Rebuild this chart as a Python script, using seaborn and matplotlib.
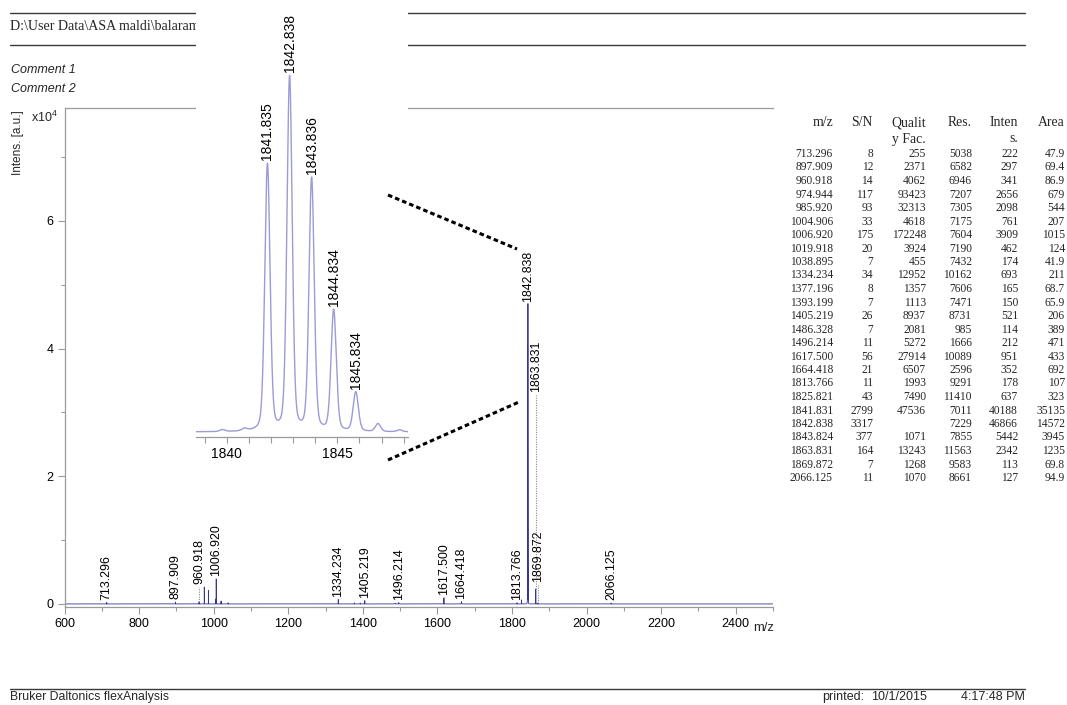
import numpy as np
import matplotlib
matplotlib.use("Agg")
import matplotlib.pyplot as plt
import seaborn as sns
from matplotlib import font_manager
from matplotlib.lines import Line2D
from matplotlib.ticker import MultipleLocator, FuncFormatter

# ---------------- peak list (flexAnalysis export) ----------------
peak_mz = [713.296, 897.909, 960.918, 974.944, 985.920, 1004.906, 1006.920,
           1019.918, 1038.895, 1334.234, 1377.196, 1393.199, 1405.219,
           1486.328, 1496.214, 1617.500, 1664.418, 1813.766, 1825.821,
           1841.831, 1842.838, 1843.824, 1863.831, 1869.872, 2066.125]
peak_sn = [8, 12, 14, 117, 93, 33, 175, 20, 7, 34, 8, 7, 26, 7, 11, 56, 21,
           11, 43, 2799, 3317, 377, 164, 7, 11]
peak_quality = [255, 2371, 4062, 93423, 32313, 4618, 172248, 3924, 455,
                12952, 1357, 1113, 8937, 2081, 5272, 27914, 6507, 1993, 7490,
                47536, None, 1071, 13243, 1268, 1070]
peak_res = [5038, 6582, 6946, 7207, 7305, 7175, 7604, 7190, 7432, 10162,
            7606, 7471, 8731, 985, 1666, 10089, 2596, 9291, 11410, 7011,
            7229, 7855, 11563, 9583, 8661]
peak_inten = [222, 297, 341, 2656, 2098, 761, 3909, 462, 174, 693, 165, 150,
              521, 114, 212, 951, 352, 178, 637, 40188, 46866, 5442, 2342,
              113, 127]
peak_area = [47.9, 69.4, 86.9, 679, 544, 207, 1015, 124, 41.9, 211, 68.7,
             65.9, 206, 389, 471, 433, 692, 107, 323, 35135, 14572, 3945,
             1235, 69.8, 94.9]

# peaks annotated in the overview spectrum
labelled_mz = [713.296, 897.909, 960.918, 1006.920, 1334.234, 1405.219,
               1496.214, 1617.500, 1664.418, 1813.766, 1842.838, 1863.831,
               1869.872, 2066.125]
# labels lifted clear of neighbouring peaks: foot of label (intensity units)
lifted_labels = {960.918: 2650, 1863.831: 32800, 1869.872: 3000}

# isotope cluster shown in the zoom window
iso_mz = [1839.80, 1840.80, 1841.835, 1842.838, 1843.836, 1844.834,
          1845.834, 1846.84, 1847.82]
iso_inten = [250, 300, 35300, 46866, 33400, 16000, 5200, 1050, 250]
iso_labelled = [1841.835, 1842.838, 1843.836, 1844.834, 1845.834]

table_header_1 = ["m/z", "S/N", "Qualit", "Res.", "Inten", "Area"]
table_header_2 = ["", "", "y Fac.", "", "s.", ""]

header_path = r"D:\User Data\ASA maldi\balaram"
comments = ["Comment 1", "Comment 2"]
footer_left = "Bruker Daltonics flexAnalysis"
footer_right = ["printed:", "10/1/2015", "4:17:48 PM"]

# ---------------- styling ----------------
sns.set_theme(style="ticks")


def pick_font(*names):
    for n in names:
        try:
            font_manager.findfont(n, fallback_to_default=False)
            return n
        except Exception:
            continue
    return "DejaVu Sans"


SANS = pick_font("Liberation Sans", "Arial")
SERIF = pick_font("Liberation Serif", "Times New Roman")
NARROW = pick_font("Liberation Sans Narrow", "Liberation Sans")

plt.rcParams["font.family"] = [SANS, "DejaVu Sans"]
plt.rcParams["mathtext.fontset"] = "custom"
plt.rcParams["mathtext.rm"] = SANS
plt.rcParams["mathtext.it"] = SANS + ":italic"

W, H = 1067, 705
GREY = "#9a9a9a"
MAIN_BLUE = "#34349a"
ZOOM_BLUE = "#9b9bd8"


def fx(px):
    return px / W


def fy(py):
    return 1 - py / H


def profile(x, centres, heights, fwhm, eta=0.25):
    """Pseudo-Voigt line shape summed over all peaks."""
    y = np.zeros_like(x, dtype=float)
    for c, h, w in zip(centres, heights, fwhm):
        d = (x - c) / (w / 2.0)
        y += h * (eta / (1 + d ** 2) + (1 - eta) * np.exp(-np.log(2) * d ** 2))
    return y


fig = plt.figure(figsize=(W / 100, H / 100), dpi=100)
fig.patch.set_facecolor("white")

# ---------------- overview spectrum ----------------
ax = fig.add_axes([fx(64.5), fy(606.5), fx(773) - fx(64.5), (606.5 - 108) / H])
mz_grid = np.union1d(np.arange(600, 2500.001, 0.05), peak_mz)
fwhm_main = [m / r for m, r in zip(peak_mz, peak_res)]
spec = profile(mz_grid, peak_mz, peak_inten, fwhm_main)
sns.lineplot(x=mz_grid, y=spec, ax=ax, color=MAIN_BLUE, lw=0.6,
             estimator=None, sort=False, legend=False)

ax.set_xlim(600, 2500)
ax.set_ylim(-400, 77700)
ax.xaxis.set_major_locator(MultipleLocator(200))
ax.xaxis.set_minor_locator(MultipleLocator(100))
ax.yaxis.set_major_locator(MultipleLocator(20000))
ax.yaxis.set_minor_locator(MultipleLocator(10000))
ax.yaxis.set_major_formatter(FuncFormatter(lambda v, p: f"{v / 1e4:.0f}"))
ax.set_xlabel("")
ax.set_ylabel("")
for side in ("left", "top", "bottom"):
    ax.spines[side].set_color(GREY)
    ax.spines[side].set_linewidth(0.9)
ax.spines["right"].set_visible(False)
ax.tick_params(which="major", length=5, width=0.8, color=GREY, labelsize=9,
               pad=3, labelcolor="black")
ax.tick_params(which="minor", length=3.2, width=0.8, color=GREY)
ax.tick_params(top=False, right=False)

inten_of = dict(zip(peak_mz, peak_inten))
for m in labelled_mz:
    top = inten_of[m]
    foot = lifted_labels.get(m, top)
    if foot != top:
        ax.plot([m, m], [top, foot], ls=(0, (1, 1.2)), color="#8a8a8a",
                lw=0.8)
    ax.annotate(f"{m:.3f}", xy=(m, foot), xytext=(0, 3),
                textcoords="offset pixels", rotation=90, ha="center",
                va="bottom", fontsize=8.9, color="black")

fig.text(fx(31), fy(117), "x10$^4$", fontsize=9, va="center", ha="left")
fig.text(fx(18), fy(143), "Intens. [a.u.]", rotation=90, fontsize=8.5,
         va="center", ha="center")
fig.text(fx(774), fy(628), "m/z", fontsize=9.4, va="center", ha="right")

# ---------------- zoom window on the isotope cluster ----------------
ins = fig.add_axes([fx(196), fy(437), fx(408) - fx(196), 437 / H], zorder=5)
ins.set_facecolor("white")
iso_grid = np.union1d(np.arange(1838.6, 1848.2, 0.004), iso_mz)
iso_spec = profile(iso_grid, iso_mz, iso_inten, [0.28] * len(iso_mz))
sns.lineplot(x=iso_grid, y=iso_spec, ax=ins, color=ZOOM_BLUE, lw=1.0,
             estimator=None, sort=False, legend=False)
ins.set_xlim(1838.6, 1848.2)
ins.set_ylim(-662, 57200)
ins.set_yticks([])
ins.set_xlabel("")
ins.set_ylabel("")
ins.xaxis.set_major_locator(MultipleLocator(5))
ins.xaxis.set_minor_locator(MultipleLocator(1))
for side in ("left", "top", "right"):
    ins.spines[side].set_visible(False)
ins.spines["bottom"].set_color(GREY)
ins.spines["bottom"].set_linewidth(0.9)
ins.tick_params(which="both", length=4.5, width=0.8, color=GREY)
ins.tick_params(which="major", labelsize=10, pad=3, labelcolor="black")
ins.tick_params(left=False)
for m in iso_labelled:
    ins.annotate(f"{m:.3f}", xy=(m, np.interp(m, iso_grid, iso_spec)),
                 xytext=(0, 3), textcoords="offset pixels", rotation=90,
                 ha="center", va="bottom", fontsize=10, color="black",
                 annotation_clip=False)

# dashed guides from the zoom window to the cluster
for (x0, y0), (x1, y1) in [((388, 195), (517, 249)), ((388, 460), (519, 402))]:
    fig.add_artist(Line2D([fx(x0), fx(x1)], [fy(y0), fy(y1)],
                          transform=fig.transFigure, color="black", lw=2.2,
                          ls=(0, (1.5, 1.0)), zorder=6))

# ---------------- page header ----------------
for yy in (13, 45):
    fig.add_artist(Line2D([fx(10), fx(1025)], [fy(yy), fy(yy)],
                          transform=fig.transFigure, color="#3a3a3a", lw=1.0))
fig.text(fx(10), fy(27), header_path, family=[SERIF, "DejaVu Serif"],
         fontsize=10.1, va="center", ha="left")
for i, c in enumerate(comments):
    fig.text(fx(11), fy(70 + 19.5 * i), c, fontsize=9, style="italic",
             va="center", ha="left")

# ---------------- peak table ----------------
col_right = [833, 873, 926, 972, 1018, 1065]


def fmt_area(v):
    return f"{v:.0f}" if v >= 100 else f"{v:.3g}"


for j, (h1, h2) in enumerate(zip(table_header_1, table_header_2)):
    fig.text(fx(col_right[j]), fy(123), h1, family=[SERIF, "DejaVu Serif"],
             fontsize=9.9, ha="right", va="center")
    if h2:
        fig.text(fx(col_right[j]), fy(139), h2,
                 family=[SERIF, "DejaVu Serif"], fontsize=9.9, ha="right",
                 va="center")

for i in range(len(peak_mz)):
    cells = [f"{peak_mz[i]:.3f}", f"{peak_sn[i]}",
             "" if peak_quality[i] is None else f"{peak_quality[i]}",
             f"{peak_res[i]}", f"{peak_inten[i]}", fmt_area(peak_area[i])]
    yy = 154 + 13.5 * i
    for j, txt in enumerate(cells):
        if txt:
            fig.text(fx(col_right[j]), fy(yy), txt,
                     family=[SERIF, "DejaVu Serif"], fontsize=8.3,
                     ha="right", va="center")

# ---------------- page footer ----------------
fig.add_artist(Line2D([fx(10), fx(1025)], [fy(689), fy(689)],
                      transform=fig.transFigure, color="#3a3a3a", lw=1.0))
fig.text(fx(10), fy(697), footer_left, family=[NARROW, "DejaVu Sans"],
         fontsize=8.8, va="center", ha="left")
fig.text(fx(822), fy(697), footer_right[0], family=[NARROW, "DejaVu Sans"],
         fontsize=9, va="center", ha="left")
fig.text(fx(871), fy(697), footer_right[1], family=[NARROW, "DejaVu Sans"],
         fontsize=9, va="center", ha="left")
fig.text(fx(1025), fy(697), footer_right[2], family=[NARROW, "DejaVu Sans"],
         fontsize=9, va="center", ha="right")

fig.savefig("out.png", dpi=100, facecolor="white")
